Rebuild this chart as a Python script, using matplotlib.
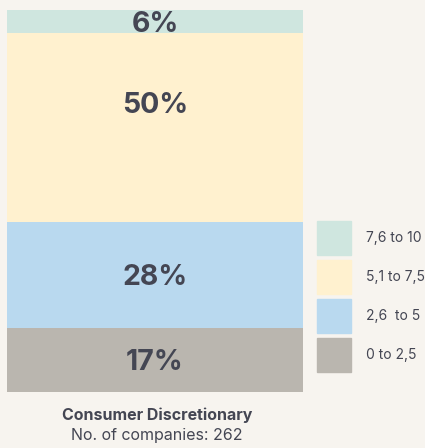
import matplotlib.pyplot as plt

# data
categories = ['0 to 2,5', '2,6  to 5', '5,1 to 7,5', '7,6 to 10']
shares = [17, 28, 50, 6]
labels = ['17%', '28%', '50%', '6%']
colors = ['#bab6af', '#b9d9ef', '#fff1cf', '#cfe6df']
sector = 'Consumer Discretionary'
n_companies = 262

bg = '#f7f4ef'
txt = '#444653'

plt.rcParams['font.family'] = ['Inter', 'DejaVu Sans']

fig = plt.figure(figsize=(4.25, 4.48), dpi=100, facecolor=bg)
W, H = 425, 448
ax = fig.add_axes([7 / W, (H - 392) / H, 296 / W, 382 / H])
ax.set_facecolor(bg)

bottom = 0
for val, lab, col in zip(shares, labels, colors):
    ax.bar(0, val, bottom=bottom, width=1, color=col, edgecolor='none')
    ypos = bottom + val / 2
    if val == 50:
        ypos = bottom + val * 0.63
    ax.text(0, ypos, lab, ha='center', va='center_baseline', fontsize=20.5,
            fontweight='bold', color=txt)
    bottom += val

ax.set_xlim(-0.5, 0.5)
ax.set_ylim(0, sum(shares))
ax.axis('off')

# legend
for i, (cat, col) in enumerate(zip(categories, colors)):
    y0 = 338 - i * 39
    fig.patches.append(plt.Rectangle((317 / W, (H - y0 - 34) / H), 34 / W, 34 / H,
                                     transform=fig.transFigure, color=col))
    fig.text(366 / W, (H - y0 - 17) / H, cat, ha='left', va='center',
             fontsize=10, color=txt)

fig.text(157 / W, (H - 415) / H, sector, ha='center', va='center',
         fontsize=11.5, fontweight='bold', color=txt)
fig.text(157 / W, (H - 435) / H, f'No. of companies: {n_companies}', ha='center',
         va='center', fontsize=11.5, color=txt)

fig.savefig('out.png', dpi=100, facecolor=bg)
